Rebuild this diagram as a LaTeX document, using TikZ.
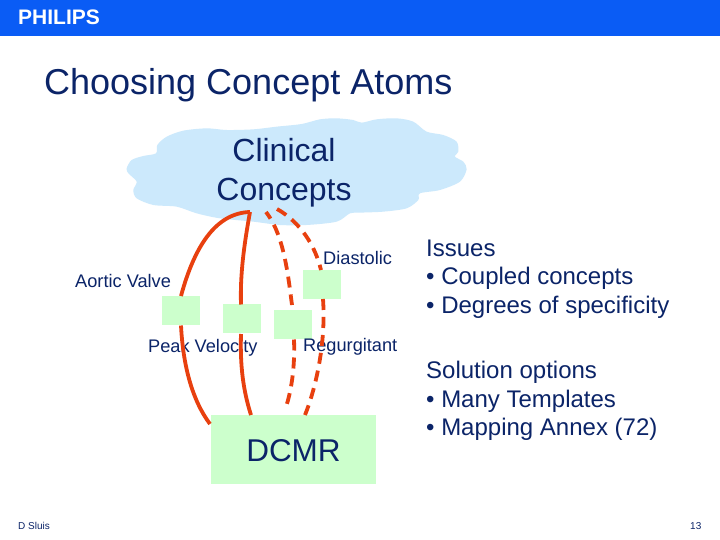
\documentclass[tikz,border=0pt]{standalone}
\usepackage{fontspec}
\setmainfont{Liberation Sans}
\definecolor{band}{HTML}{0A5CF5}
\definecolor{navy}{HTML}{0B2468}
\definecolor{cloudblue}{HTML}{CCE9FC}
\definecolor{boxgreen}{HTML}{CCFFCC}
\definecolor{linkred}{HTML}{E8400F}
\tikzset{
  px/.style={x=1pt,y=-1pt},
  label/.style={inner sep=0pt,text=navy,anchor=base west},
  atom/.style={fill=boxgreen,draw=none,minimum width=38pt,minimum height=29pt,inner sep=0pt},
  solidlink/.style={draw=linkred,line width=3.8pt},
  dashlink/.style={draw=linkred,line width=3.8pt,dash pattern=on 11pt off 7pt},
}
\begin{document}
\begin{tikzpicture}[px]
\useasboundingbox (0,0) rectangle (720,540);
\fill[white] (0,0) rectangle (720,540);
\fill[band] (0,0) rectangle (720,36);
\node[label,text=white,font=\fontsize{21}{21}\selectfont\bfseries] (logo) at (18,25) {PHILIPS};
\node[label,font=\fontsize{36}{36}\selectfont] (title) at (44,95) {Choosing Concept Atoms};
% cloud
\begin{scope}[shift={(120,110)},x=0.3333pt,y=-0.3333pt]
\fill[cloudblue] plot[smooth cycle,tension=0.5] coordinates {
 (20,175) (35,150) (70,138) (108,130) (112,105) (140,80) (190,62) (260,55) (320,60) (400,58)
 (470,50) (545,42) (600,28) (650,25) (700,30) (725,38) (770,28) (830,25) (880,35) (920,65)
 (970,75) (1010,95) (1015,125) (1005,140) (1030,155) (1040,178) (1020,215) (960,240) (900,250)
 (895,270) (860,295) (790,305) (720,308) (690,310) (650,335) (560,345) (480,345) (400,335)
 (300,325) (230,310) (170,290) (100,285) (50,265) (40,240) (50,215) (25,190)};
\end{scope}
\node[inner sep=0pt,text=navy,align=center,font=\fontsize{32}{39}\selectfont] (cloud) at (284,173) {Clinical\\Concepts};
\coordinate (apexA) at (250,212);
\coordinate (apexB) at (266,212);
\coordinate (apexC) at (277,209);
% boxes
\node[atom] (aortic) at (181,310.5) {};
\node[atom] (peak) at (242,318.5) {};
\node[atom] (regurg) at (293,324.5) {};
\node[atom] (diast) at (322,284.5) {};
\node[fill=boxgreen,minimum width=165pt,minimum height=69pt,inner sep=0pt] (dcmr) at (293.5,449.5) {};
\node[inner sep=0pt,text=navy,font=\fontsize{31.5}{31.5}\selectfont] (dcmrt) at (293.5,451) {DCMR};
% labels
\node[label,font=\fontsize{18.2}{18.2}\selectfont] (lv) at (75,287.5) {Aortic Valve};
\node[label,font=\fontsize{18.2}{18.2}\selectfont] (lp) at (148,352.5) {Peak Velocity};
\node[label,font=\fontsize{18.2}{18.2}\selectfont] (lr) at (303,351) {Regurgitant};
\node[label,font=\fontsize{18.2}{18.2}\selectfont] (ld) at (323,264.5) {Diastolic};
% links
\coordinate (a1) at (181,296); \coordinate (a2) at (181,325.5); \coordinate (a3) at (210,424);
\coordinate (p1) at (241,304.5); \coordinate (p2) at (241,334); \coordinate (p3) at (251,415);
\coordinate (r1) at (292,305); \coordinate (r2) at (294,339.5); \coordinate (r3) at (285,410);
\coordinate (d1) at (321,270); \coordinate (d2) at (323,299); \coordinate (d3) at (305,415);
\path[solidlink] (a1) .. controls (194,248) and (215,213) .. (apexA);
\path[solidlink] (apexA) .. controls (244,245) and (240,275) .. (p1);
\path[solidlink] (a2) .. controls (183,365) and (192,400) .. (a3);
\path[solidlink] (p2) .. controls (240,365) and (243,390) .. (p3);
\path[dashlink,dash phase=3pt] (apexB) .. controls (284,235) and (288,275) .. (r1);
\path[dashlink] (r2) .. controls (295,365) and (292,390) .. (r3);
\path[dashlink] (apexC) .. controls (300,222) and (315,245) .. (d1);
\path[dashlink] (d2) .. controls (326,340) and (317,385) .. (d3);
% right text
\node[label,font=\fontsize{24}{28.6}\selectfont,align=left,anchor=north west] (issues) at (426,239.5) {Issues\\• Coupled concepts\\• Degrees of specificity};
\node[label,font=\fontsize{24}{28.6}\selectfont,align=left,anchor=north west] (options) at (426,361) {Solution options\\• Many Templates\\• Mapping Annex (72)};
\node[label,font=\fontsize{10}{10}\selectfont] (foot) at (18,529) {D Sluis};
\node[label,font=\fontsize{10}{10}\selectfont] (num) at (690,529) {13};
\end{tikzpicture}
\end{document}
